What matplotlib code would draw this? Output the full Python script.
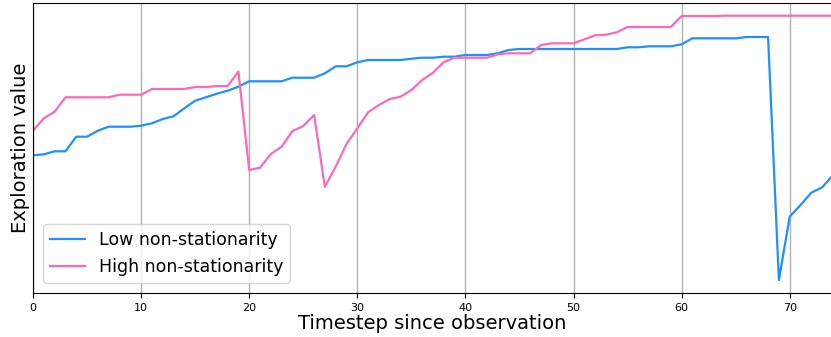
import matplotlib
matplotlib.use("Agg")
import matplotlib.pyplot as plt

# exploration value (arbitrary units) for each timestep since observation
timesteps = list(range(75))
low_ns = [138, 139, 142, 142, 156.6, 156.6, 162.6, 166.6, 166.6, 166.6,
          167.6, 170, 174.3, 177, 185, 192.6, 196, 199.6, 202.6, 206.6,
          212, 212, 212, 212, 215.6, 215.6, 215.6, 220, 227, 227,
          231, 233.3, 233.3, 233.3, 233.3, 234.6, 235.6, 235.6, 236.6, 236.6,
          238.3, 238.3, 238.3, 240, 243.3, 244.3, 244.3, 244.3, 244.3, 244.3,
          244.3, 244.3, 244.3, 244.3, 244.3, 246, 246, 247, 247, 247,
          249, 255, 255, 255, 255, 255, 256.3, 256.3, 256.3, 13.3,
          76.6, 88.3, 100.6, 106, 118]
high_ns = [162.6, 175, 181.6, 196, 196, 196, 196, 196, 198.6, 198.6,
           198.6, 204.3, 204.3, 204.3, 204.3, 206.3, 206.3, 207.3, 207.3, 221.6,
           123.3, 125.6, 139.3, 146.6, 162.3, 167.3, 178.3, 106.6, 126.6, 149.3,
           165, 181, 188.3, 194.3, 196.6, 203.3, 213.3, 220.6, 231.3, 235.6,
           235.6, 235.6, 235.6, 239, 240, 240, 240, 248.3, 250, 250,
           250, 254, 258, 258.6, 261, 266.3, 266.3, 266.3, 266.3, 266.3,
           277.3, 277.3, 277.3, 277.3, 277.6, 277.6, 277.6, 277.6, 277.6, 277.6,
           277.6, 277.6, 277.6, 277.6, 277.6]

fig = plt.figure(figsize=(8.31, 3.37), dpi=100)
ax = fig.add_axes([33 / 831, 1 - 293.3 / 337, 798 / 831, 290.6 / 337])

ax.plot(timesteps, low_ns, color="dodgerblue", lw=1.6, label="Low non-stationarity")
ax.plot(timesteps, high_ns, color="hotpink", lw=1.6, label="High non-stationarity")

ax.set_xlim(0, 798 / 10.81)
ax.set_ylim(0, 290.6)
ax.set_xticks([0, 10, 20, 30, 40, 50, 60, 70])
ax.tick_params(axis="x", labelsize=8)
ax.set_yticks([])
ax.grid(axis="x", color="#b0b0b0", lw=1)
ax.spines["right"].set_visible(False)
ax.set_xlabel("Timestep since observation", fontsize=14, labelpad=1)
ax.set_ylabel("Exploration value", fontsize=14, labelpad=2)
ax.legend(loc="lower left", fontsize=12.5, borderaxespad=0.6)

fig.savefig("out.png", dpi=100)
